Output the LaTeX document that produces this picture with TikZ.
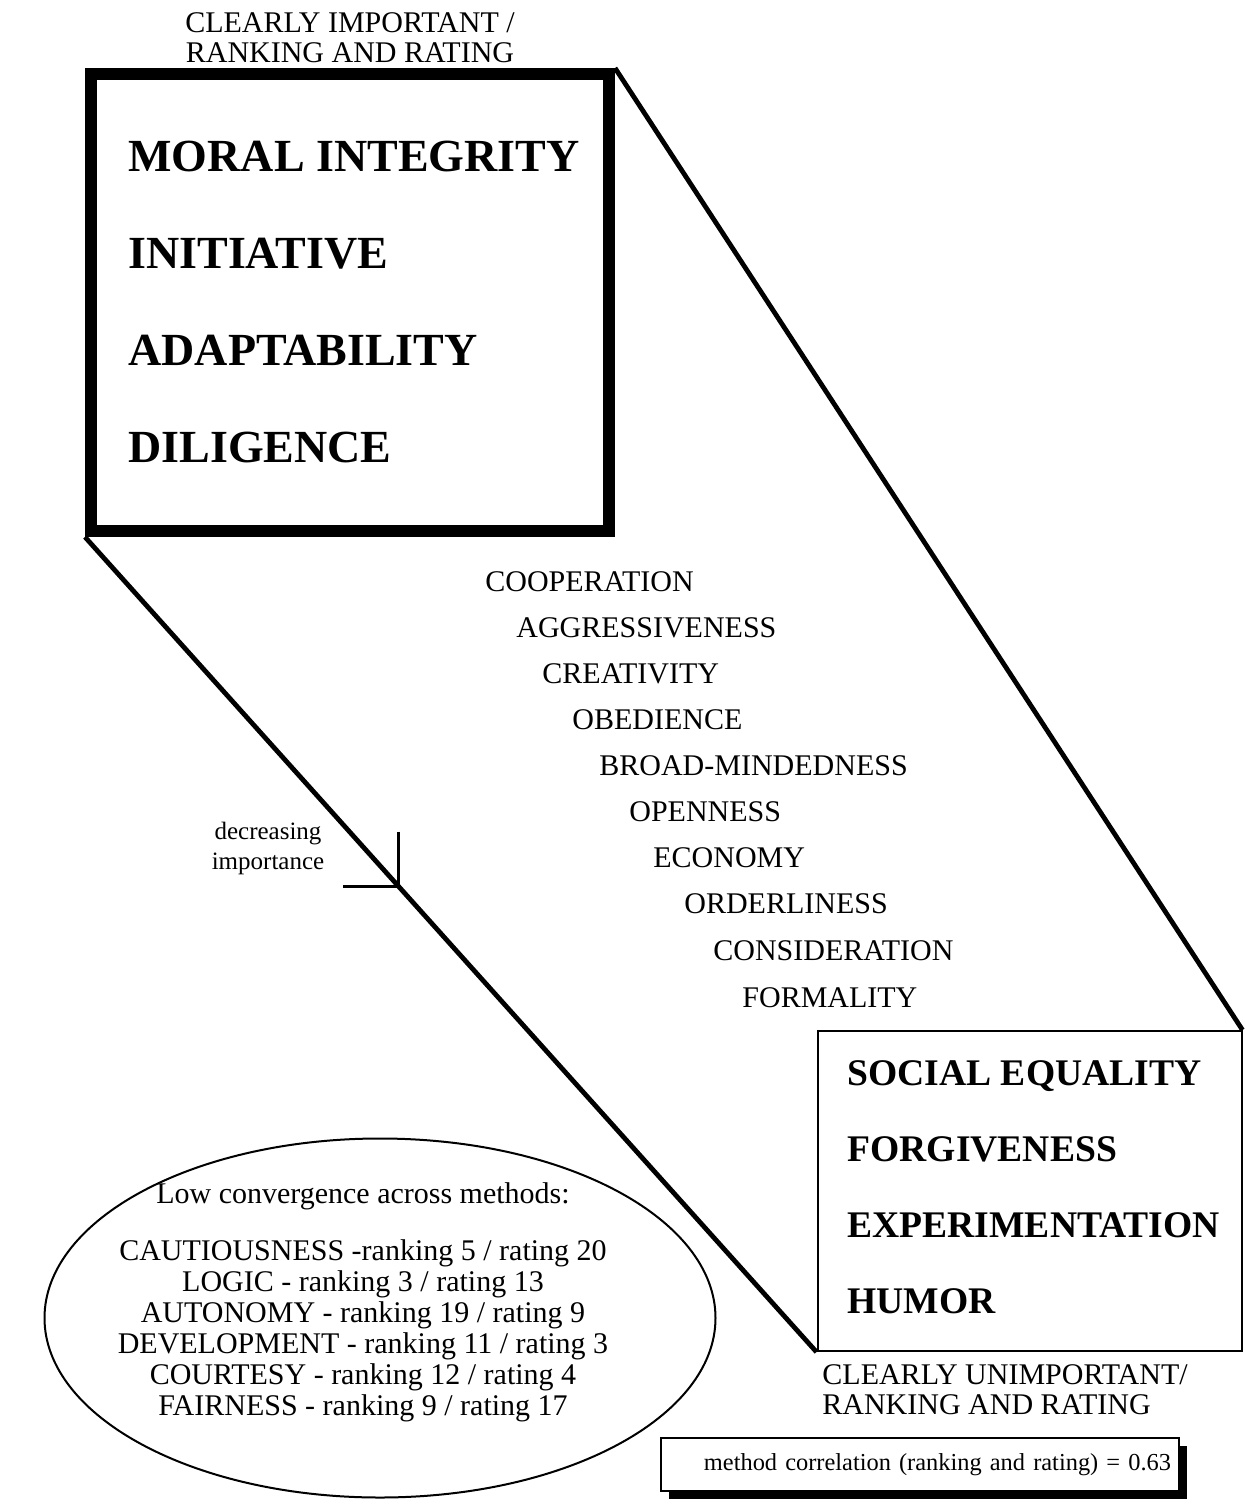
\documentclass[tikz,border=0pt]{standalone}
\usepackage{fontspec}
\setmainfont{Liberation Serif}
\usetikzlibrary{positioning,shapes.geometric,shadows}
\tikzset{
    keybox/.style={draw, line width=6pt, inner sep=0pt},
    endbox/.style={draw, line width=1pt, inner sep=0pt},
    keyword/.style={anchor=base west, inner sep=0pt,
        font=\bfseries\fontsize{23}{27}\selectfont},
    endword/.style={anchor=base west, inner sep=0pt,
        font=\bfseries\fontsize{18.8}{22}\selectfont},
    midword/.style={anchor=base west, inner sep=0pt,
        font=\fontsize{15}{18}\selectfont},
    edgetext/.style={inner sep=0pt, font=\fontsize{15}{15}\selectfont},
    spanline/.style={line width=2.4pt},
    turnmark/.style={line width=1.6pt}
}

\begin{document}
\begin{tikzpicture}[x=0.5pt, y=0.5pt]
\useasboundingbox (0,0) rectangle (1245,-1504);

% the two end boxes
\node[keybox, minimum width=259pt, minimum height=228.5pt] (topbox) at (350,-302.5) {};
\node[endbox, minimum width=212pt, minimum height=160pt] (lowbox) at (1029.5,-1191) {};

\node[keyword] (moral) at (128,-171) {MORAL INTEGRITY};
\node[keyword, below=48.5pt of moral.base west, anchor=base west] (initiative) {INITIATIVE};
\node[keyword, below=48.5pt of initiative.base west, anchor=base west] (adapt) {ADAPTABILITY};
\node[keyword, below=48.5pt of adapt.base west, anchor=base west] (dilig) {DILIGENCE};

\node[endword] (soceq) at (847,-1085) {SOCIAL EQUALITY};
\node[endword, below=38pt of soceq.base west, anchor=base west] (forgive) {FORGIVENESS};
\node[endword, below=38pt of forgive.base west, anchor=base west] (exper) {EXPERIMENTATION};
\node[endword, below=38pt of exper.base west, anchor=base west] (humor) {HUMOR};

\node[edgetext, align=center] (toplabel) at (350,-38) {CLEARLY IMPORTANT /\\RANKING AND RATING};
\node[edgetext, align=left, anchor=west] (lowlabel) at (822,-1390) {CLEARLY UNIMPORTANT/\\RANKING AND RATING};

% the middle values
\node[midword] (coop) at (485,-591) {COOPERATION};
\node[midword] (aggr) at (516,-637) {AGGRESSIVENESS};
\node[midword] (creat) at (542,-683) {CREATIVITY};
\node[midword] (obed) at (572,-729) {OBEDIENCE};
\node[midword] (broad) at (599,-775) {BROAD-MINDEDNESS};
\node[midword] (open) at (629,-821) {OPENNESS};
\node[midword] (econ) at (653,-867) {ECONOMY};
\node[midword] (order) at (684,-913) {ORDERLINESS};
\node[midword] (consid) at (713,-960) {CONSIDERATION};
\node[midword] (formal) at (742,-1007) {FORMALITY};

\draw[spanline] (topbox.north east) -- (lowbox.north east);
\draw[spanline] (topbox.south west) -- coordinate[pos=0.429] (turn) (lowbox.south west);
\draw[turnmark] (turn) ++(0,55) -- (turn) -- ++(-56,0);
\node[align=center, inner sep=0pt, font=\fontsize{12.5}{15}\selectfont] (decr) at (268,-848) {decreasing\\importance};

% low convergence
\node[ellipse, draw, line width=1pt, inner sep=0pt, minimum width=335.5pt, minimum height=179.5pt] (convring) at (380,-1318) {};
\node[align=center, inner sep=0pt, font=\fontsize{15}{15.5}\selectfont] (convtext) at (363,-1302)
    {Low convergence across methods:\\[13pt]
     CAUTIOUSNESS -ranking 5 / rating 20\\
     LOGIC - ranking 3 / rating 13\\
     AUTONOMY - ranking 19 / rating 9\\
     DEVELOPMENT - ranking 11 / rating 3\\
     COURTESY - ranking 12 / rating 4\\
     FAIRNESS - ranking 9 / rating 17};

\node[draw, line width=1pt, fill=white, inner xsep=4pt, text width=251pt, align=right,
    minimum height=26.5pt, font=\fontsize{12.2}{15}\selectfont,
    drop shadow={shadow xshift=4pt, shadow yshift=-4pt, fill=black, opacity=1}]
    (corr) at (920,-1464.5) {method correlation (ranking and rating) = 0.63};
\end{tikzpicture}
\end{document}
